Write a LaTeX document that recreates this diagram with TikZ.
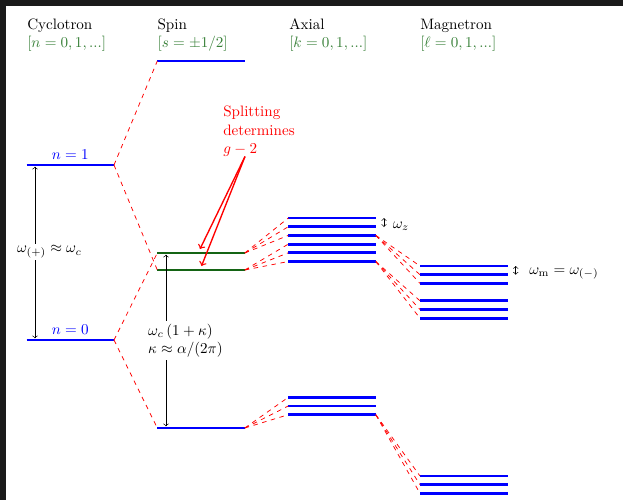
\documentclass[tikz,border=0pt]{standalone}
\usetikzlibrary{calc}
\definecolor{hgreen}{RGB}{55,128,55}
\definecolor{lgreen}{RGB}{20,100,20}
\definecolor{frame}{RGB}{26,26,26}
\newcommand{\enlevel}[4]{%
  \coordinate (#1L) at (#2,#3);
  \coordinate (#1R) at ({#2+87.5},#3);
  \draw[level,#4] (#1L) -- (#1R);}
\begin{document}
\begin{tikzpicture}[x=0.6623pt,y=-0.6623pt,
  level/.style={line width=1.9pt},
  conn/.style={red,dashed,line width=0.5pt},
  dimarrow/.style={<->,line width=0.4pt},
  head/.style={anchor=base west,inner sep=0pt},
  sub/.style={anchor=base west,inner sep=0pt,text=hgreen},
  note/.style={red,->,line width=0.9pt}]
\fill[frame] (0,0) rectangle (623,500);
\fill[white] (6,6) rectangle (623,500);
\useasboundingbox (0,0) rectangle (623,500);
% headers
\node[head] (hc) at (27,29.5) {Cyclotron};
\node[sub]  (hcs) at (27,47) {$[n=0,1,...]$};
\node[head] (hs) at (157.3,29.5) {Spin};
\node[sub]  (hss) at (157.3,47) {$[s=\pm1/2]$};
\node[head] (ha) at (289,29.5) {Axial};
\node[sub]  (has) at (289,47) {$[k=0,1,...]$};
\node[head] (hm) at (420,29.5) {Magnetron};
\node[sub]  (hms) at (420,47) {$[\ell=0,1,...]$};
% cyclotron levels
\enlevel{c1}{26.5}{165}{blue}
\enlevel{c0}{26.5}{340}{blue}
\node[blue,above] (lc1) at ($(c1L)!0.5!(c1R)$) {$n=1$};
\node[blue,above] (lc0) at ($(c0L)!0.5!(c0R)$) {$n=0$};
% spin levels
\enlevel{sU}{157.3}{61}{blue}
\enlevel{g1}{157.3}{253}{lgreen}
\enlevel{g2}{157.3}{270}{lgreen}
\enlevel{sD}{157.3}{428}{blue}
% axial levels
\foreach \i/\y in {1/218,2/226.7,3/235.4,4/244.1,5/252.8,6/261.5,7/397.3,8/406,9/414.7}
  {\enlevel{a\i}{288.3}{\y}{blue}}
% magnetron levels
\foreach \i/\y in {1/266,2/274.7,3/283.4,4/300.8,5/309.5,6/318.2,7/476,8/484.7,9/493.4}
  {\enlevel{m\i}{420}{\y}{blue}}
% connectors cyclotron -> spin
\draw[conn] (c1R) -- (sUL);
\draw[conn] (c1R) -- (g2L);
\draw[conn] (c0R) -- (g1L);
\draw[conn] (c0R) -- (sDL);
% spin -> axial
\foreach \i in {1,2,3} {\draw[conn] (g1R) -- (a\i L);}
\foreach \i in {4,5,6} {\draw[conn] (g2R) -- (a\i L);}
\foreach \i in {7,8,9} {\draw[conn] (sDR) -- (a\i L);}
% axial -> magnetron
\foreach \i in {1,2,3} {\draw[conn] (a3R) -- (m\i L);}
\foreach \i in {4,5,6} {\draw[conn] (a6R) -- (m\i L);}
\foreach \i in {7,8,9} {\draw[conn] (a9R) -- (m\i L);}
% cyclotron frequency
\coordinate (wcT) at (35,166.6);
\coordinate (wcB) at (35,338.4);
\draw[dimarrow] (wcT) -- (wcB);
\node[fill=white,inner sep=1pt] (wcl) at (49.5,252) {$\omega_{(+)}\approx\omega_c$};
% spin frequency
\coordinate (wsT) at (166,254.6);
\coordinate (wsB) at (166,426.4);
\draw[dimarrow] (wsB) -- (wsT);
\node[fill=white,align=left,inner sep=2pt] (wsl) at (185.5,340.4)
  {$\omega_c\,(1+\kappa)$\\$\kappa\approx\alpha/(2\pi)$};
% axial frequency
\coordinate (wzT) at (384,218);
\coordinate (wzB) at (384,227);
\draw[dimarrow] (wzT) -- (wzB);
\node[anchor=west] (wzl) at (387.5,226) {$\omega_z$};
% magnetron frequency
\coordinate (wmT) at (515.7,266);
\coordinate (wmB) at (515.7,274.7);
\draw[dimarrow] (wmT) -- (wmB);
\node[anchor=west] (wml) at (524,273.5) {$\omega_{\mathrm{m}}=\omega_{(-)}$};
% note
\node[red,align=left,anchor=north west,inner sep=0pt] (nt) at (223,106)
  {Splitting\\determines\\$g-2$};
\coordinate (nS) at (245,156.5);
\coordinate (nE1) at (200,249);
\coordinate (nE2) at (201.5,266);
\draw[note] (nS) -- (nE1);
\draw[note] (nS) -- (nE2);
\end{tikzpicture}
\end{document}
